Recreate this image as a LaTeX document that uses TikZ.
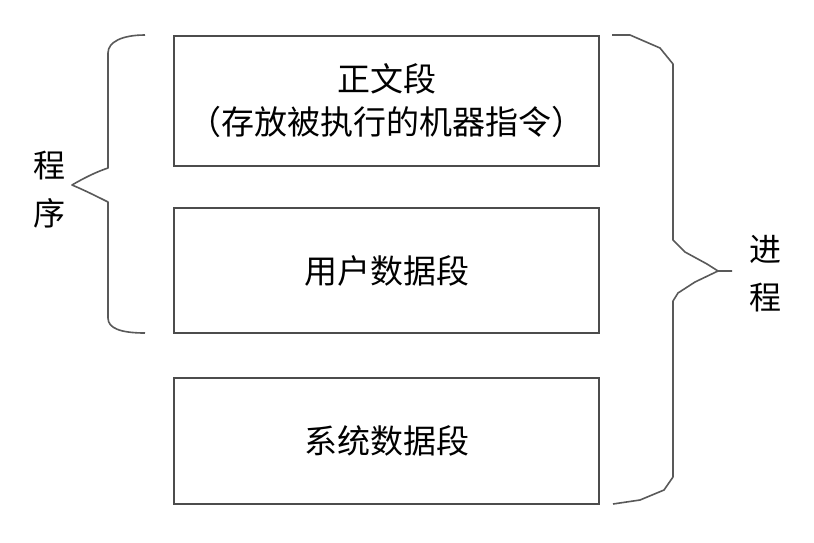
\documentclass[tikz,border=0pt]{standalone}
\usepackage{fontspec}
\setmainfont{Noto Sans CJK SC}
\begin{document}
\begin{tikzpicture}[x=1pt,y=-1pt,
  seg/.style={draw=black!70, line width=2pt, minimum width=425pt, anchor=north west, align=center, inner sep=0pt},
  brace/.style={draw=black!65, line width=1.6pt, line join=round},
  lbl/.style={align=center, inner sep=0pt, font=\fontsize{32}{48}\selectfont},
  txt/.style={font=\fontsize{33}{43}\selectfont}]
  % canvas
  \fill[white] (0,0) rectangle (814,542);
  \useasboundingbox (0,0) rectangle (814,542);

  % the three segments
  \node[seg, minimum height=130pt, txt] (text) at (173,35) {正文段\\（存放被执行的机器指令）};
  \node[seg, minimum height=125pt, txt] (user) at (173,207) {用户数据段};
  \node[seg, minimum height=126pt, txt] (sys)  at (173,377) {系统数据段};

  % left brace: program = text + user data
  \coordinate (ltop) at (145,35);
  \coordinate (lbot) at (145,333);
  \coordinate (ltip) at (72,185);
  \draw[brace] (ltop) .. controls (122,35) and (108,42) .. (108,53)
    -- (108,168) .. controls (96,172) and (84,178) .. (ltip)
    .. controls (84,190) and (96,196) .. (108,202)
    -- (108,318) .. controls (108,328) and (120,333) .. (lbot);
  \node[lbl] (prog) at (50,190) {程\\序};

  % right brace: process = all three segments
  \coordinate (rtop) at (612,35);
  \coordinate (rbot) at (613,504);
  \coordinate (rtip) at (732,271);
  \draw[brace] (rtop) -- (630,35) -- (660,48) -- (673,64)
    -- (673,240) -- (685,252) -- (707,264) -- (718,271) -- (rtip);
  \draw[brace] (718,271) -- (695,282) -- (678,293) -- (673,301)
    -- (673,477) -- (664,490) -- (640,500) -- (rbot);
  \node[lbl] (proc) at (765,274) {进\\程};
\end{tikzpicture}
\end{document}
